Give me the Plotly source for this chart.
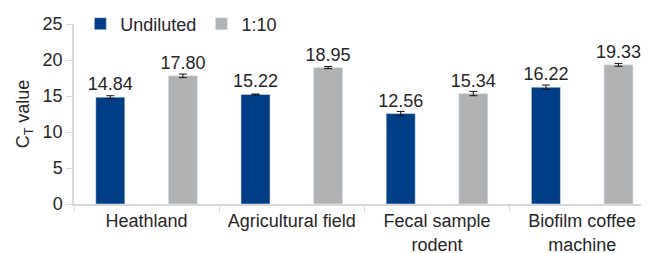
import plotly.graph_objects as go

categories = ["Heathland", "Agricultural field", "Fecal sample<br>rodent", "Biofilm coffee<br>machine"]
undiluted = [14.84, 15.22, 12.56, 16.22]
undiluted_err = [0.2, 0.05, 0.3, 0.3]
diluted = [17.80, 18.95, 15.34, 19.33]
diluted_err = [0.25, 0.15, 0.3, 0.2]
y_ticks = [0, 5, 10, 15, 20, 25]

font_family = "Liberation Sans, Arial, sans-serif"
text_color = "#262626"
fs = 18

# page body has an 8px default margin, so the figure is sized to fit the window
W, H = 641, 245

fig = go.Figure()
fig.add_trace(go.Bar(
    name="Undiluted", x=categories, y=undiluted,
    marker_color="#003F87",
    error_y=dict(type="data", array=undiluted_err, color="#111111", thickness=1, width=4),
    text=[f"{v:.2f}" for v in undiluted], textposition="outside", constraintext="none",
    textfont=dict(size=fs, color=text_color), cliponaxis=False,
))
fig.add_trace(go.Bar(
    name="1:10", x=categories, y=diluted,
    marker_color="#B1B2B4",
    error_y=dict(type="data", array=diluted_err, color="#111111", thickness=1, width=4),
    text=[f"{v:.2f}" for v in diluted], textposition="outside", constraintext="none",
    textfont=dict(size=fs, color=text_color), cliponaxis=False,
))

fig.update_layout(
    width=W, height=H,
    margin=dict(l=66, r=0, t=16, b=49, autoexpand=False),
    paper_bgcolor="white", plot_bgcolor="white",
    font=dict(family=font_family, size=fs, color=text_color),
    barmode="group", bargap=0.0, bargroupgap=0.6,
    showlegend=True,
    legend=dict(orientation="h", x=0.011, y=1 - 16 / H, xref="paper", yref="container",
                xanchor="left", yanchor="middle",
                font=dict(size=fs), itemwidth=30, tracegroupgap=0,
                bgcolor="rgba(0,0,0,0)"),
)
fig.update_xaxes(
    automargin=False, range=[-0.5, 3.46],
    showline=True, linecolor="#D9D9D9", linewidth=1.5,
    ticks="outside", tickson="boundaries", ticklen=6, tickcolor="#D9D9D9",
    tickfont=dict(size=fs),
)
fig.update_yaxes(
    automargin=False,
    range=[0, 25], tickvals=y_ticks, showgrid=False, zeroline=False,
    showline=True, linecolor="#D9D9D9", linewidth=1.5,
    ticks="outside", ticklen=6, tickcolor="#D9D9D9",
    tickfont=dict(size=fs),
    title=dict(text="C<sub>T</sub> value", font=dict(size=fs), standoff=8),
)

fig.write_html("out.html")
